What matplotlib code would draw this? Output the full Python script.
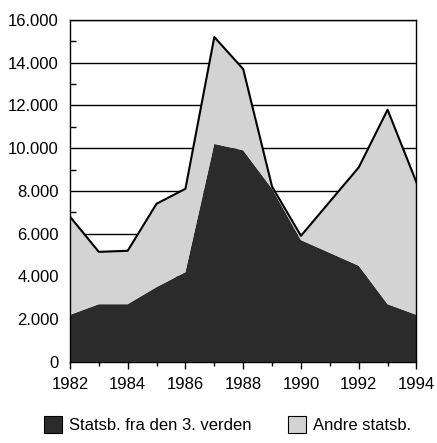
import numpy as np
from matplotlib import pyplot as plt
from matplotlib.patches import Patch
from matplotlib.ticker import FuncFormatter, MultipleLocator

plt.rcParams['font.family'] = ['Liberation Sans', 'DejaVu Sans']

years = np.arange(1982, 1995)
tredje = [2200, 2700, 2700, 3500, 4200, 10200, 9900, 8100, 5700, 5100, 4500, 2700, 2200]
andre = [4600, 2450, 2500, 3900, 3900, 5000, 3800, 100, 200, 2400, 4600, 9100, 6200]
navne = ['Statsb. fra den 3. verden', 'Andre statsb.']
farver = ['#2b2b2b', '#d3d3d3']

fig = plt.figure(figsize=(4.37, 4.43), dpi=100)
ax = fig.add_axes([0.160, 0.183, 0.793, 0.772])

ax.stackplot(years, tredje, andre, colors=farver, linewidth=0, zorder=2)
total = np.array(tredje) + np.array(andre)
ax.plot(years, total, color='black', lw=1.5, zorder=3)

ax.set_xlim(1982, 1994)
ax.set_ylim(0, 16000)
ax.yaxis.set_major_locator(MultipleLocator(2000))
ax.yaxis.set_minor_locator(MultipleLocator(1000))
ax.xaxis.set_major_locator(MultipleLocator(2))
ax.xaxis.set_minor_locator(MultipleLocator(1))
ax.yaxis.set_major_formatter(FuncFormatter(lambda v, p: '{:,.0f}'.format(v).replace(',', '.')))
ax.grid(axis='y', color='black', lw=1.0, zorder=1)
ax.set_axisbelow(True)

ax.tick_params(axis='y', which='major', length=0, pad=8, labelsize=12)
ax.tick_params(axis='y', which='minor', direction='in', length=4, width=1)
ax.tick_params(axis='x', which='major', direction='out', length=5, width=1, pad=6, labelsize=12)
ax.tick_params(axis='x', which='minor', direction='out', length=3, width=1)
for s in ax.spines.values():
    s.set_linewidth(1.0)

handles = [Patch(facecolor=c, edgecolor='black', lw=0.8) for c in farver]
fig.legend(handles, navne, loc='center', bbox_to_anchor=(0.52, 0.042), ncol=2,
           frameon=False, fontsize=12, handlelength=1.1, handleheight=1.2,
           handletextpad=0.4, columnspacing=2.2)

fig.savefig('out.png', dpi=100)
